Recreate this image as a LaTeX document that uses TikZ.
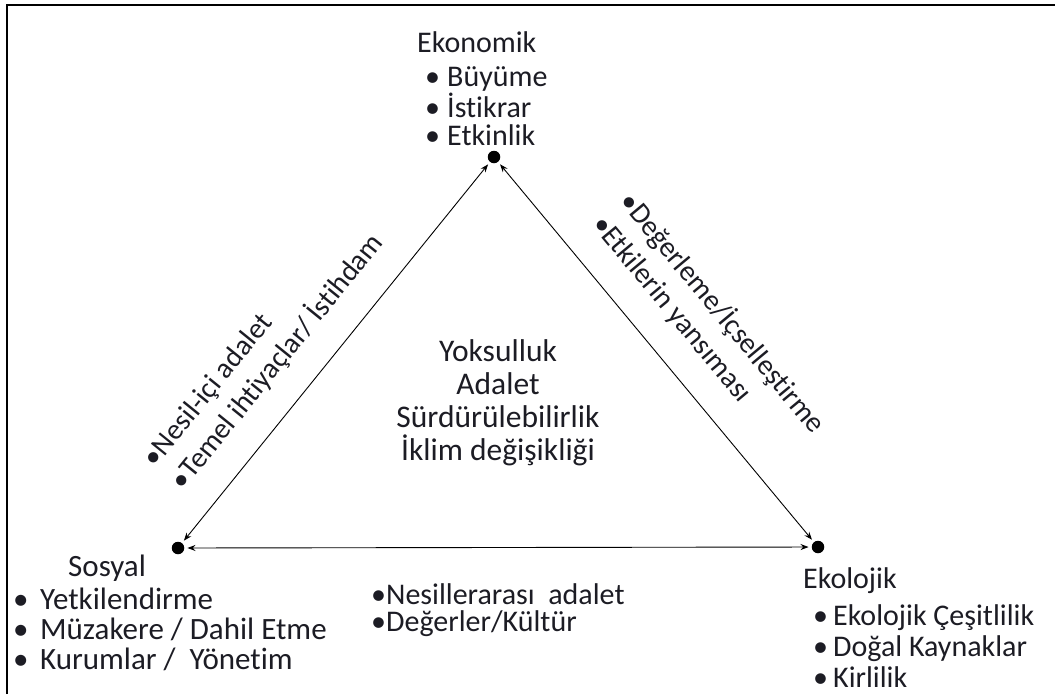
\documentclass[tikz,border=0pt]{standalone}
\usepackage{fontspec}
\setmainfont{Carlito}[Ligatures=NoCommon]
\usetikzlibrary{positioning,arrows.meta}
\definecolor{inkc}{RGB}{28,28,36}
\tikzset{
  dot/.style={circle,fill=black,inner sep=0pt,minimum size=12.5pt},
  link/.style={{Stealth[length=8pt,width=6pt]}-{Stealth[length=8pt,width=6pt]},line width=0.9pt,shorten <=3pt,shorten >=3pt},
  head/.style={inner sep=0pt,text=inkc},
  list/.style={inner sep=0pt,align=left,text=inkc},
  side/.style={sloped,above=26pt,align=left,inner sep=0pt,text=inkc,font=\fontsize{29}{36}\selectfont},
}
\newcommand{\itm}[1]{\makebox[#1][l]{\textbullet}}

\begin{document}
\begin{tikzpicture}[x=1pt,y=-1pt]
\useasboundingbox (0,0) rectangle (1055,694);
\draw[line width=2.5pt] (7,694) -- (7,5) -- (1055,5);

\node[dot] (eko) at (494,157) {};
\node[dot] (sos) at (178,548) {};
\node[dot] (ekl) at (818,547) {};

\draw[link] (sos) -- node[side,pos=0.41] (sosl) {\textbullet Nesil-içi adalet\\\textbullet Temel ihtiyaçlar/ İstihdam} (eko);
\draw[link] (eko) -- node[side,pos=0.525] (ekll) {\textbullet Değerleme/İçselleştirme\\\textbullet Etkilerin yansıması} (ekl);
\draw[link] (sos) -- (ekl);

% Ekonomik
\node[head,font=\fontsize{30}{30}\selectfont,anchor=west] (ekoh) at (417,42) {Ekonomik};
\node[list,font=\fontsize{30}{28.5}\selectfont,below=14pt of ekoh.south west,anchor=north west,xshift=8pt] (ekol)
  {\itm{22pt}Büyüme\\\itm{22pt}İstikrar\\\itm{22pt}Etkinlik};

% Sosyal
\node[head,font=\fontsize{31}{30}\selectfont,anchor=west] (sosh) at (68,568) {Sosyal};
\node[list,font=\fontsize{31}{30}\selectfont,below=6pt of sosh.south west,anchor=north west,xshift=-55pt] (sosli)
  {\itm{27pt}Yetkilendirme\\\itm{27pt}Müzakere / Dahil Etme\\\itm{27pt}Kurumlar / \ Yönetim};

% Ekolojik
\node[head,font=\fontsize{30}{31}\selectfont,anchor=west] (eklh) at (803,581) {Ekolojik};
\node[list,font=\fontsize{30}{31}\selectfont,below=10pt of eklh.south west,anchor=north west,xshift=10pt] (eklli)
  {\itm{20pt}Ekolojik Çeşitlilik\\\itm{20pt}Doğal Kaynaklar\\\itm{20pt}Kirlilik};

% orta
\node[list,align=center,font=\fontsize{31.5}{33}\selectfont] (mid) at (498,403)
  {Yoksulluk\\Adalet\\Sürdürülebilirlik\\İklim değişikliği};
\node[list,font=\fontsize{30}{27}\selectfont,anchor=west] (alt) at (371,610)
  {\textbullet Nesillerarası \ adalet\\\textbullet Değerler/Kültür};
\end{tikzpicture}
\end{document}
